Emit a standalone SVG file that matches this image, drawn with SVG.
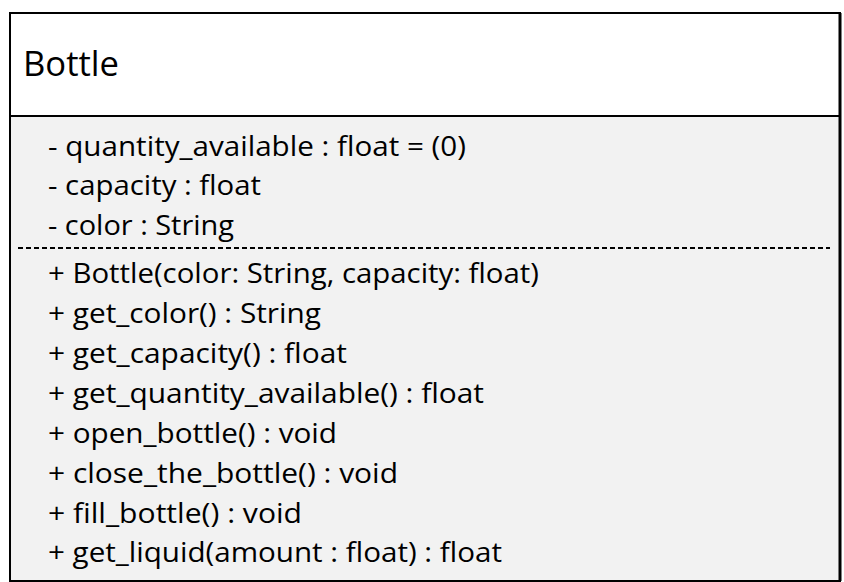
<svg xmlns="http://www.w3.org/2000/svg" width="844" height="582" viewBox="0 0 844 582">
<style>
.t{font-family:"Open Sans","Liberation Sans",sans-serif;font-size:27px;fill:#000}
.h{font-family:"Open Sans","Liberation Sans",sans-serif;font-size:34px;fill:#000}
</style>
<rect width="844" height="582" fill="#fff"/>
<g id="class-Bottle">
<rect x="10" y="13" width="830" height="103" fill="#fff" stroke="#000" stroke-width="2"/>
<rect x="10" y="116" width="830" height="465" fill="#f2f2f2" stroke="#000" stroke-width="2"/>
<line x1="840" y1="13" x2="840" y2="581" stroke="#000" stroke-width="3"/>
<line x1="18" y1="248" x2="830" y2="248" stroke="#000" stroke-width="2" stroke-dasharray="5,3"/>
<text class="h" x="23" y="76" textLength="96" lengthAdjust="spacingAndGlyphs">Bottle</text>
<text class="t" x="48" y="155.5" textLength="418" lengthAdjust="spacingAndGlyphs">- quantity_available : float = (0)</text>
<text class="t" x="48" y="195" textLength="213" lengthAdjust="spacingAndGlyphs">- capacity : float</text>
<text class="t" x="48" y="234.5" textLength="186" lengthAdjust="spacingAndGlyphs">- color : String</text>
<text class="t" x="48" y="283" textLength="491" lengthAdjust="spacingAndGlyphs">+ Bottle(color: String, capacity: float)</text>
<text class="t" x="48" y="323" textLength="273" lengthAdjust="spacingAndGlyphs">+ get_color() : String</text>
<text class="t" x="48" y="363" textLength="299" lengthAdjust="spacingAndGlyphs">+ get_capacity() : float</text>
<text class="t" x="48" y="403" textLength="436" lengthAdjust="spacingAndGlyphs">+ get_quantity_available() : float</text>
<text class="t" x="48" y="443" textLength="289" lengthAdjust="spacingAndGlyphs">+ open_bottle() : void</text>
<text class="t" x="48" y="483" textLength="350" lengthAdjust="spacingAndGlyphs">+ close_the_bottle() : void</text>
<text class="t" x="48" y="523" textLength="254" lengthAdjust="spacingAndGlyphs">+ fill_bottle() : void</text>
<text class="t" x="48" y="562" textLength="454" lengthAdjust="spacingAndGlyphs">+ get_liquid(amount : float) : float</text>
</g>
<g id="connectors"/>
</svg>
